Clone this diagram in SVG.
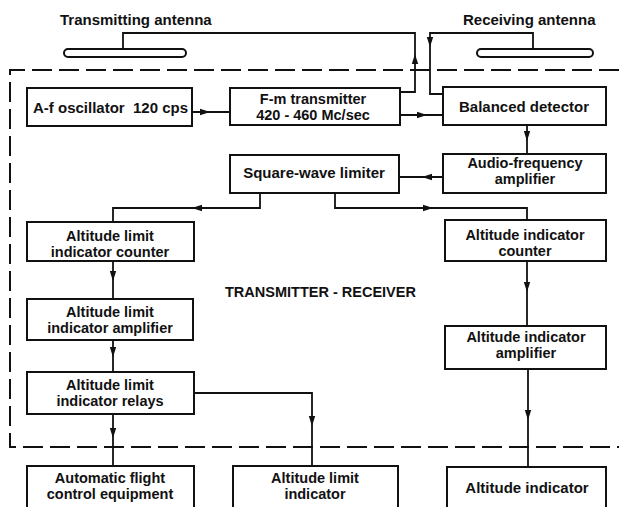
<svg xmlns="http://www.w3.org/2000/svg" xmlns:xlink="http://www.w3.org/1999/xlink" width="619" height="507" viewBox="0 0 619 507">
<style>
  .bg { fill: #ffffff; }
  .box { fill: none; stroke: #111; stroke-width: 2; }
  .ant { fill: #fff; stroke: #111; stroke-width: 2; }
  .wire { fill: none; stroke: #111; stroke-width: 1.8; }
  .dash { fill: none; stroke: #111; stroke-width: 2; stroke-dasharray: 20 7; }
  text { font-family: "Liberation Sans", Arial, sans-serif; font-weight: bold; font-size: 15px; fill: #111; }
  .c { text-anchor: middle; }
  .e { text-anchor: end; }
  .t2 { font-size: 14.5px; }
  .big { font-size: 14.5px; }
</style>
<defs>
  <path id="ah" d="M0,0 L-10,-3.2 L-10,3.2 Z" fill="#111"/>
</defs>
<rect class="bg" x="0" y="0" width="619" height="507"/>

<!-- enclosure -->
<g id="enclosure">
  <path class="dash" d="M619,70 H10 V447 H619"/>
  <text class="big" x="225" y="297">TRANSMITTER - RECEIVER</text>
</g>

<!-- antennas -->
<g id="tx-antenna">
  <rect class="ant" x="64" y="49" width="122" height="8" rx="4"/>
  <text x="60" y="25">Transmitting antenna</text>
</g>
<g id="rx-antenna">
  <rect class="ant" x="477" y="49" width="116" height="8" rx="4"/>
  <text x="463" y="25">Receiving antenna</text>
</g>

<!-- connectors -->
<g id="connectors">
  <path class="wire" d="M123,49 V33 H415 V92 H400"/>
  <path class="wire" d="M533,49 V33 H430 V94 H443"/>
  <path class="wire" d="M192,112 H230"/>
  <path class="wire" d="M400,115 H443"/>
  <path class="wire" d="M527,125 V154"/>
  <path class="wire" d="M443,177 H399"/>
  <path class="wire" d="M260,193 V208 H113 V222"/>
  <path class="wire" d="M335,193 V208 H527 V220"/>
  <path class="wire" d="M113,261 V299"/>
  <path class="wire" d="M113,340 V372"/>
  <path class="wire" d="M113,414 V466"/>
  <path class="wire" d="M194,393 H312 V466"/>
  <path class="wire" d="M527,261 V326"/>
  <path class="wire" d="M528,369 V467"/>
  <use xlink:href="#ah" transform="translate(415,54) rotate(-90)"/>
  <use xlink:href="#ah" transform="translate(430,47) rotate(90)"/>
  <use xlink:href="#ah" transform="translate(210,112)"/>
  <use xlink:href="#ah" transform="translate(427,115)"/>
  <use xlink:href="#ah" transform="translate(527,141) rotate(90)"/>
  <use xlink:href="#ah" transform="translate(422,177) rotate(180)"/>
  <use xlink:href="#ah" transform="translate(192,208) rotate(180)"/>
  <use xlink:href="#ah" transform="translate(433,208)"/>
  <use xlink:href="#ah" transform="translate(113,281) rotate(90)"/>
  <use xlink:href="#ah" transform="translate(113,357) rotate(90)"/>
  <use xlink:href="#ah" transform="translate(113,438) rotate(90)"/>
  <use xlink:href="#ah" transform="translate(312,426) rotate(90)"/>
  <use xlink:href="#ah" transform="translate(527,292) rotate(90)"/>
  <use xlink:href="#ah" transform="translate(528,420) rotate(90)"/>
</g>

<!-- nodes -->
<g id="af-oscillator">
  <rect class="box" x="27" y="88" width="165" height="38"/>
  <text x="33" y="113">A-f oscillator</text>
  <text class="e" x="188" y="113">120 cps</text>
</g>
<g id="fm-transmitter">
  <rect class="box" x="230" y="88" width="170" height="37"/>
  <text class="c t2" x="313" y="104">F-m transmitter</text>
  <text class="c t2" x="313" y="120">420 - 460 Mc/sec</text>
</g>
<g id="balanced-detector">
  <rect class="box" x="443" y="87" width="163" height="38"/>
  <text class="c" x="524" y="112">Balanced detector</text>
</g>
<g id="square-wave-limiter">
  <rect class="box" x="230" y="155" width="169" height="38"/>
  <text class="c" x="314" y="178">Square-wave limiter</text>
</g>
<g id="audio-amplifier">
  <rect class="box" x="443" y="154" width="163" height="39"/>
  <text class="c t2" x="525" y="168">Audio-frequency</text>
  <text class="c t2" x="525" y="184">amplifier</text>
</g>
<g id="alt-limit-counter">
  <rect class="box" x="27" y="222" width="167" height="39"/>
  <text class="c t2" x="110" y="241">Altitude limit</text>
  <text class="c t2" x="110" y="257">indicator counter</text>
</g>
<g id="alt-counter">
  <rect class="box" x="445" y="220" width="161" height="41"/>
  <text class="c t2" x="525" y="240">Altitude indicator</text>
  <text class="c t2" x="525" y="256">counter</text>
</g>
<g id="alt-limit-amplifier">
  <rect class="box" x="27" y="299" width="166" height="41"/>
  <text class="c t2" x="110" y="317">Altitude limit</text>
  <text class="c t2" x="110" y="333">indicator amplifier</text>
</g>
<g id="alt-amplifier">
  <rect class="box" x="445" y="326" width="161" height="43"/>
  <text class="c t2" x="526" y="342">Altitude indicator</text>
  <text class="c t2" x="526" y="358">amplifier</text>
</g>
<g id="alt-limit-relays">
  <rect class="box" x="27" y="372" width="167" height="42"/>
  <text class="c t2" x="110" y="390">Altitude limit</text>
  <text class="c t2" x="110" y="406">indicator relays</text>
</g>
<g id="auto-flight">
  <rect class="box" x="27" y="466" width="167" height="60"/>
  <text class="c t2" x="110" y="483">Automatic flight</text>
  <text class="c t2" x="110" y="499">control equipment</text>
</g>
<g id="alt-limit-indicator">
  <rect class="box" x="233" y="466" width="165" height="60"/>
  <text class="c t2" x="315" y="483">Altitude limit</text>
  <text class="c t2" x="315" y="499">indicator</text>
</g>
<g id="alt-indicator">
  <rect class="box" x="447" y="467" width="159" height="60"/>
  <text class="c" x="527" y="493">Altitude indicator</text>
</g>
</svg>
